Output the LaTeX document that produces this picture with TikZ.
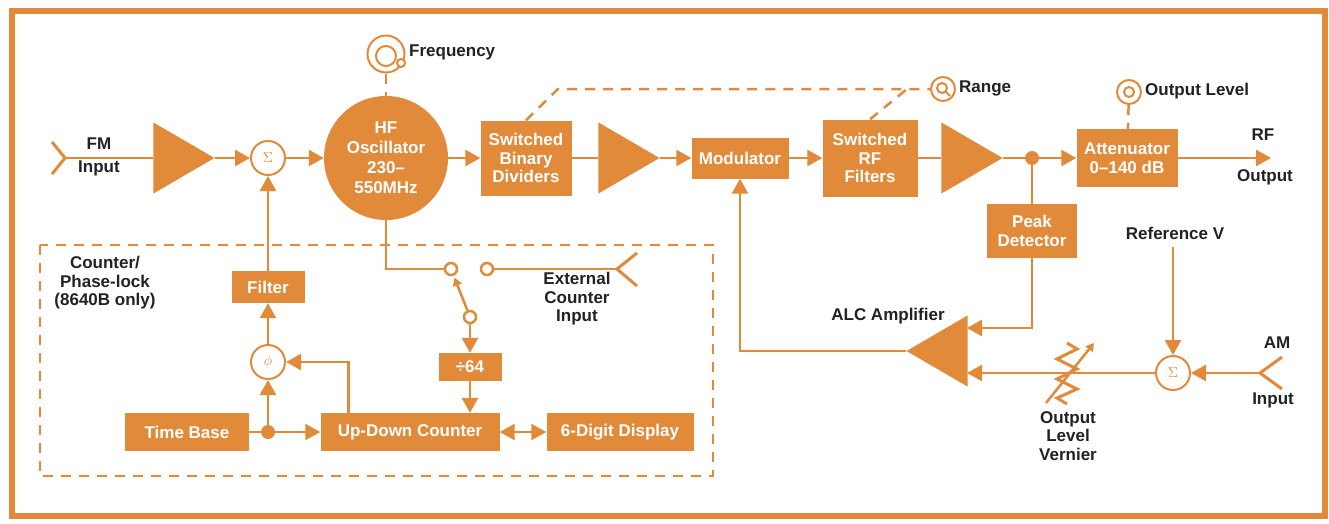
\documentclass[tikz,border=0pt]{standalone}
\usepackage{fontspec}
\setmainfont{Liberation Sans}
\usetikzlibrary{shapes.geometric,arrows.meta,positioning}
\definecolor{hporange}{RGB}{224,138,58}
\definecolor{ink}{RGB}{32,34,38}
\newcommand{\diagfont}{\fontsize{17}{18.5}\selectfont\bfseries}
\begin{document}
\begin{tikzpicture}[x=1pt, y=-1pt,
					>={Triangle[length=15pt,width=16pt]},
					every node/.style={inner sep=0pt, align=center},
					blk/.style={rectangle, fill=hporange, text=white, font=\diagfont},
					amp/.style={isosceles triangle, isosceles triangle stretches=true, fill=hporange, minimum width=71pt, minimum height=61pt, anchor=apex},
					sumjn/.style={circle, draw=hporange, fill=white, line width=2pt, minimum size=34pt, text=hporange, font=\fontsize{15}{15}\selectfont},
					jdot/.style={circle, fill=hporange, minimum size=14pt},
					contact/.style={circle, draw=hporange, fill=white, line width=2.5pt, minimum size=12pt},
					knob/.style={circle, draw=hporange, fill=white, line width=2pt},
					lbl/.style={text=ink, font=\diagfont},
					wire/.style={draw=hporange, line width=2.5pt},
					ctl/.style={wire, dash pattern=on 10pt off 8pt},
					smalltip/.style={-{Triangle[length=8pt,width=9pt]}}]
	\fill[white] (0,0) rectangle (1329,523);
	\useasboundingbox (0,0) rectangle (1329,523);
	\draw[hporange, line width=6pt] (12,11) rectangle (1325,516);
	\draw[ctl, line width=2pt] (40,245) rectangle (713,476);

	\coordinate (fm) at (65,158);
	\node[lbl] (fmlbl) at (99,144) {FM};
	\node[lbl] (fmlbl2) at (99,168) {Input};
	\node[amp] (a1) at (215,158) {};
	\node[sumjn] (s1) at (268,158) {$\Sigma$};
	\node[circle, fill=hporange, text=white, font=\fontsize{17}{20}\selectfont\bfseries, minimum size=124pt] (osc) at (386,158) {HF\\Oscillator\\230--\\550MHz};
	\node[blk, minimum width=91pt, minimum height=75pt] (sbd) at (526,158) {Switched\\Binary\\Dividers};
	\node[amp] (a2) at (660,158) {};
	\node[blk, minimum width=97pt, minimum height=41pt] (mod) at (740,158) {Modulator};
	\node[blk, minimum width=95pt, minimum height=77pt] (srf) at (870,158) {Switched\\RF\\Filters};
	\node[amp] (a3) at (1003,158) {};
	\node[jdot] (j2) at (1032,158) {};
	\node[blk, minimum width=101pt, minimum height=58pt] (att) at (1127,158) {Attenuator\\0--140 dB};
	\coordinate (rf) at (1271,158);
	\node[lbl] (rflbl) at (1263,135) {RF};
	\node[lbl] (rflbl2) at (1265,177) {Output};

	\node[knob, minimum size=37pt] (kf) at (386,54) {};
	\draw[hporange, line width=2pt] (386,56) circle[radius=10pt];
	\draw[hporange, line width=2pt, fill=white] (401,63) circle[radius=4pt];
	\node[lbl, anchor=west] (freq) at (409,52) {Frequency};
	\node[knob, minimum size=24pt] (kr) at (943,89) {};
	\draw[hporange, line width=2pt] (942,88) circle[radius=5pt] (946,92) -- (950,96);
	\node[lbl, anchor=west] (range) at (959,88) {Range};
	\node[knob, minimum size=24pt] (ko) at (1129,92) {};
	\draw[hporange, line width=2pt] (1129,92) circle[radius=5pt];
	\node[lbl, anchor=west] (olvl) at (1145,91) {Output Level};

	\node[blk, minimum width=90pt, minimum height=54pt] (pk) at (1032,231) {Peak\\Detector};
	\node[amp, shape border rotate=180] (alc) at (906,351) {};
	\coordinate (alcA) at (967,328);
	\coordinate (alcB) at (967,373);
	\node[lbl] (alclbl) at (888,316) {ALC Amplifier};
	\node[sumjn] (s2) at (1173,373) {$\Sigma$};
	\node[lbl] (refv) at (1175,233) {Reference V};
	\coordinate (am) at (1260,373);
	\node[lbl] (amlbl) at (1277,343) {AM};
	\node[lbl] (amlbl2) at (1273,400) {Input};
	\node[lbl] (vlbl) at (1068,436) {Output\\Level\\Vernier};

	\node[lbl] (cpl) at (105,283) {Counter/\\Phase-lock\\(8640B only)};
	\node[blk, minimum width=73pt, minimum height=32pt] (filt) at (268,287) {Filter};
	\node[sumjn] (phi) at (268,362) {$\phi$};
	\node[blk, minimum width=124pt, minimum height=38pt] (tb) at (187,432) {Time Base};
	\node[jdot] (j1) at (268,432) {};
	\node[blk, minimum width=179pt, minimum height=38pt] (udc) at (410,432) {Up-Down Counter};
	\node[blk, minimum width=147pt, minimum height=38pt] (disp) at (620,432) {6-Digit Display};
	\node[blk, minimum width=63pt, minimum height=28pt] (div) at (470,367) {÷64};
	\node[contact] (c1) at (451,269) {};
	\node[contact] (c2) at (487,269) {};
	\node[contact] (pv) at (470,317) {};
	\coordinate (ext) at (617,269);
	\node[lbl] (extlbl) at (577,299) {External\\Counter\\Input};

	\draw[wire, line width=3pt] (fm) -- ++(-13,-16) (fm) -- ++(-13,16);
	\draw[wire] (fm) -- (a1);
	\draw[wire,->] (a1.apex) -- (s1);
	\draw[wire,->] (s1) -- (osc);
	\draw[wire,->] (osc) -- (sbd);
	\draw[wire] (sbd) -- (a2);
	\draw[wire,->] (a2.apex) -- (mod);
	\draw[wire,->] (mod) -- (srf);
	\draw[wire] (srf) -- (a3);
	\draw[wire] (a3.apex) -- (j2);
	\draw[wire,->] (j2) -- (att);
	\draw[wire,->] (att) -- (rf);
	\draw[wire] (j2) -- (pk);
	\draw[wire,->] (pk) |- (alcA);
	\draw[wire,->] (s2) -- (alcB);
	\draw[wire,->] (alc.apex) -| (mod);
	\draw[wire,->] ([yshift=-8pt]refv.south -| s2) -- (s2);
	\draw[wire,->] (am) -- (s2);
	\draw[wire, line width=3pt] (am) -- ++(22,-16) (am) -- ++(22,16);

	\draw[ctl] (kf) -- (osc);
	\draw[ctl] (sbd.north) -- (558,89) -- (kr);
	\draw[ctl] (srf.north) -- (907,89);
	\draw[ctl] (ko) -- (att);

	\draw[wire, line width=3pt, line join=miter] (1067,343) -- (1077,349) -- (1057,359) -- (1077,369) -- (1057,379) -- (1077,389) -- (1057,398) -- (1067,404);
	\draw[wire, smalltip] (1046,403) -- (1094,343);

	\draw[wire,->] (filt) -- (s1);
	\draw[wire,->] (phi) -- (filt);
	\draw[wire,->] (j1) -- (phi);
	\draw[wire] (tb) -- (j1);
	\draw[wire,->] (j1) -- (udc);
	\draw[wire,->] ([xshift=28pt]udc.north west) |- (phi);
	\draw[wire,<->] (udc) -- (disp);
	\draw[wire,->] (div) -- (div |- udc.north);
	\draw[wire,->] (pv) -- (div);
	\draw[wire] (osc) |- (c1);
	\draw[wire] (c2) -- (ext);
	\draw[wire, line width=3pt] (ext) -- ++(20,-16) (ext) -- ++(20,17);
	\draw[wire, smalltip, shorten >=2pt] (pv) -- (c1);
\end{tikzpicture}
\end{document}
